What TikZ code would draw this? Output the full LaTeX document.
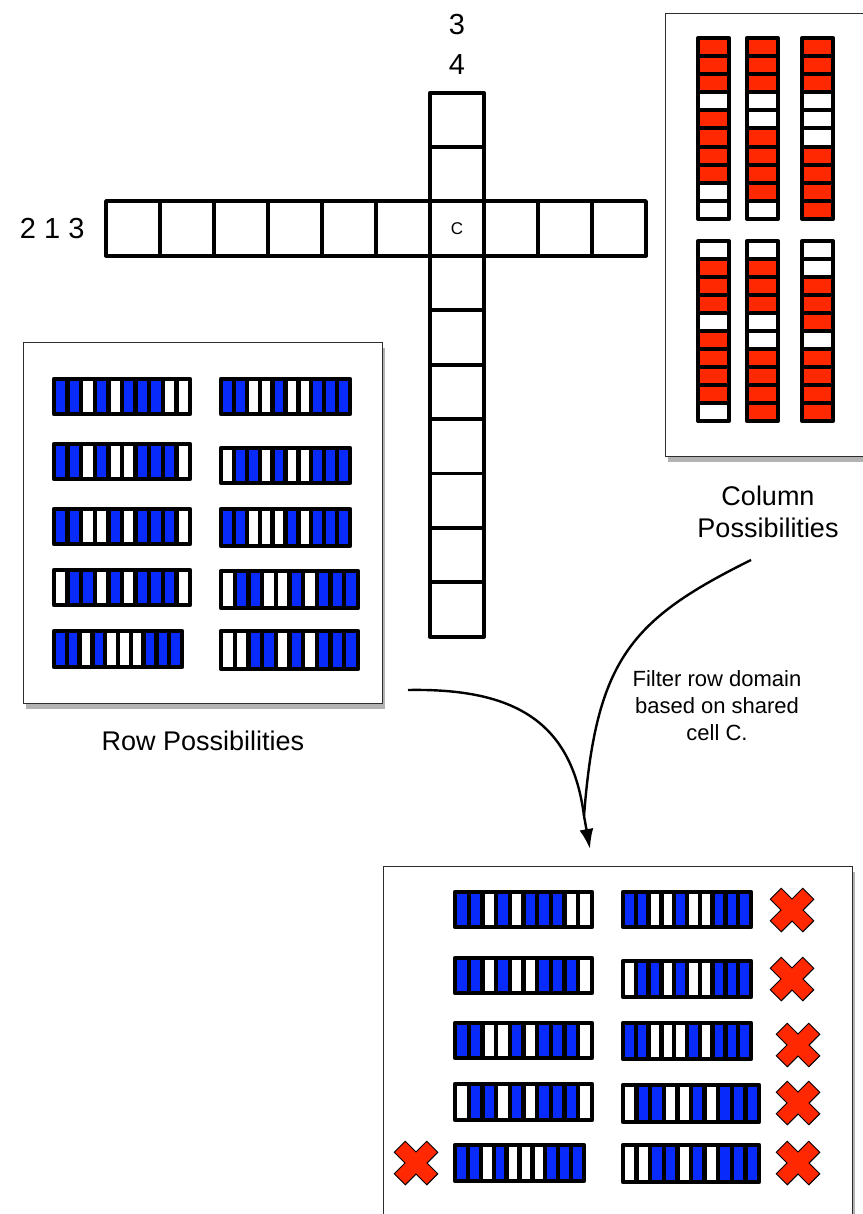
\documentclass[tikz,border=0pt]{standalone}
\usepackage{fontspec}
\setmainfont{Liberation Sans}
\usetikzlibrary{shadows,arrows.meta}
\definecolor{cB}{RGB}{8,42,250}
\definecolor{cW}{RGB}{255,255,255}
\definecolor{cR}{RGB}{255,40,0}
\definecolor{frameC}{RGB}{45,45,45}
\def\pLa{cB,cB,cW,cB,cW,cB,cB,cB,cW,cW}
\def\pLb{cB,cB,cW,cB,cW,cW,cB,cB,cB,cW}
\def\pLc{cB,cB,cW,cW,cB,cW,cB,cB,cB,cW}
\def\pLd{cW,cB,cB,cW,cB,cW,cB,cB,cB,cW}
\def\pLe{cB,cB,cW,cB,cW,cW,cW,cB,cB,cB}
\def\pRa{cB,cB,cW,cW,cB,cW,cW,cB,cB,cB}
\def\pRb{cW,cB,cB,cW,cB,cW,cW,cB,cB,cB}
\def\pRc{cB,cB,cW,cW,cW,cB,cW,cB,cB,cB}
\def\pRd{cW,cB,cB,cW,cW,cB,cW,cB,cB,cB}
\def\pRe{cW,cW,cB,cB,cW,cB,cW,cB,cB,cB}
% row bar: left, top, cell width, height, pattern
\newcommand\rbar[5]{\foreach \c [count=\i from 0] in #5 {\draw[barcell,fill=\c] ({#1+\i*#3},{#2}) rectangle ++(#3,#4);}}
% column bar: left, top, width, cell height, pattern
\newcommand\cbar[5]{\foreach \c [count=\i from 0] in #5 {\draw[colcell,fill=\c] ({#1},{#2+\i*#4}) rectangle ++(#3,#4);}}
\tikzset{
  barcell/.style={draw=black,line width=4.3pt,line join=round},
  colcell/.style={draw=black,line width=4pt,line join=round},
  gridcell/.style={draw=black,line width=3.8pt,line join=round},
  panel/.style={draw=frameC,line width=1.2pt,fill=white,inner sep=0pt,anchor=north west,
     drop shadow={shadow xshift=2.5pt,shadow yshift=-5pt,fill=black,opacity=0.3}},
  conn/.style={draw=black,line width=2.4pt},
  xst/.style={draw=black,line width=1pt,fill=cR,line join=miter},
  xmark/.pic={\draw[xst,rotate=45] (-7.8,23)--(7.8,23)--(7.8,7.8)--(23,7.8)--(23,-7.8)--(7.8,-7.8)--(7.8,-23)--(-7.8,-23)--(-7.8,-7.8)--(-23,-7.8)--(-23,7.8)--(-7.8,7.8)--cycle;},
  big/.style={font=\fontsize{29}{34}\selectfont},
  lbl/.style={font=\fontsize{27}{32}\selectfont,align=center},
  note/.style={font=\fontsize{22}{27}\selectfont,align=center}
}
\begin{document}
\begin{tikzpicture}[x=1pt,y=-1pt]
\useasboundingbox (0,0) rectangle (862,1214);
\fill[white] (0,0) rectangle (862,1214);

% clues
\node[big] (c3) at (457,25) {3};
\node[big] (c4) at (457,65) {4};
\node[big,anchor=east] (r213) at (88,229) {2 1 3};

% crossing grid
\foreach \i in {0,...,9} \draw[gridcell] ({106+\i*54},201.1) rectangle ++(54,54.6);
\foreach \j in {0,...,9} \draw[gridcell] (430,{92.7+\j*54.4}) rectangle ++(54,54.4);
\node[font=\fontsize{17}{20}\selectfont] (cC) at (457,228.4) {C};

% column possibilities
\node[panel,minimum width=230pt,minimum height=443pt] (colpanel) at (665,13) {};
\cbar{698}{38}{31}{18.1}{{cR,cR,cR,cW,cR,cR,cR,cR,cW,cW}}
\cbar{747}{38}{31}{18.1}{{cR,cR,cR,cW,cW,cR,cR,cR,cR,cW}}
\cbar{802}{38}{31}{18.1}{{cR,cR,cR,cW,cW,cW,cR,cR,cR,cR}}
\cbar{698}{241}{31}{18}{{cW,cR,cR,cR,cW,cR,cR,cR,cR,cW}}
\cbar{747}{241}{31}{18}{{cW,cR,cR,cR,cW,cW,cR,cR,cR,cR}}
\cbar{802}{241}{31}{18}{{cW,cW,cR,cR,cR,cW,cR,cR,cR,cR}}
\node[lbl] (collbl) at (768,512) {Column\\Possibilities};

% row possibilities
\node[panel,minimum width=359pt,minimum height=361pt] (rowpanel) at (23,342) {};
\rbar{54}{379}{13.6}{35}{\pLa}
\rbar{54}{444}{13.6}{35}{\pLb}
\rbar{54}{509}{13.6}{35}{\pLc}
\rbar{54}{570}{13.6}{35}{\pLd}
\rbar{54}{631}{12.8}{36}{\pLe}
\rbar{221}{379}{12.9}{35}{\pRa}
\rbar{221}{448}{12.9}{35}{\pRb}
\rbar{221}{509}{12.9}{37}{\pRc}
\rbar{221}{571}{13.7}{37}{\pRd}
\rbar{221}{631}{13.7}{38}{\pRe}
\node[lbl] (rowlbl) at (203,741) {Row Possibilities};

% result panel
\node[panel,minimum width=469pt,minimum height=380pt] (respanel) at (383,866) {};
\rbar{455}{892}{13.7}{35}{\pLa}
\rbar{455}{958}{13.7}{35}{\pLb}
\rbar{455}{1023}{13.7}{35}{\pLc}
\rbar{455}{1084}{13.7}{36}{\pLd}
\rbar{455}{1145}{12.9}{36}{\pLe}
\rbar{623}{892}{12.8}{35}{\pRa}
\rbar{623}{961}{12.8}{36}{\pRb}
\rbar{623}{1023}{12.8}{36}{\pRc}
\rbar{623}{1085}{13.6}{37}{\pRd}
\rbar{623}{1145}{13.6}{37}{\pRe}
\pic (x1) at (792,910) {xmark};
\pic (x2) at (792,979) {xmark};
\pic (x3) at (798,1045) {xmark};
\pic (x4) at (798,1103) {xmark};
\pic (x5) at (798,1163) {xmark};
\pic (x6) at (416,1163) {xmark};

% connectors
\coordinate (a1) at (408,690);
\coordinate (b1) at (751,560);
\coordinate (m) at (584,816);
\coordinate (tip) at (590,849);
\draw[conn] (b1) .. controls (630,620) and (596,660) .. (m);
\draw[conn,-{Latex[length=20pt,width=14pt]}] (a1) .. controls (515,688) and (572,722) .. (m) -- (tip);
\node[note] (filt) at (717,706) {Filter row domain\\based on shared\\cell C.};
\end{tikzpicture}
\end{document}
